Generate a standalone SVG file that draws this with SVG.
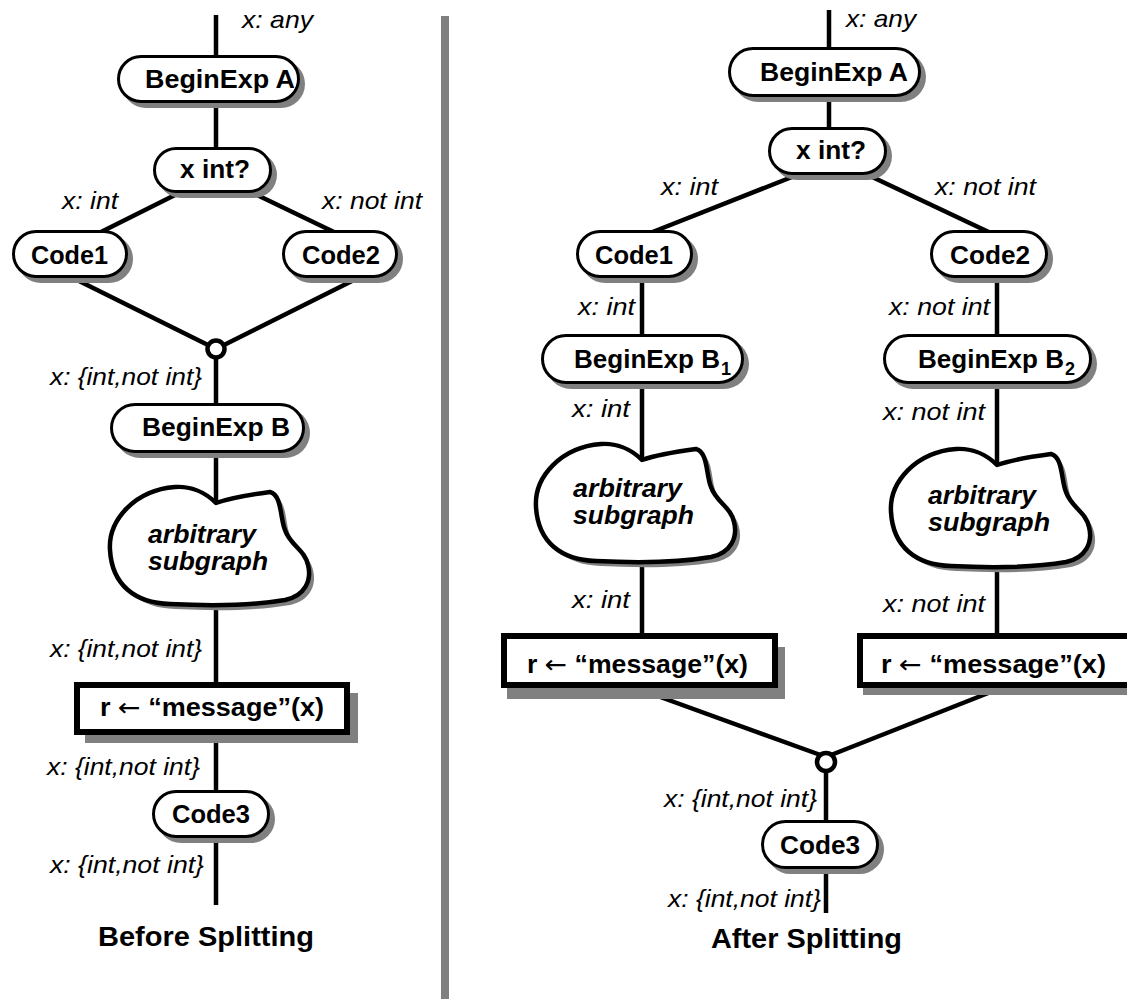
<svg xmlns="http://www.w3.org/2000/svg" xmlns:xlink="http://www.w3.org/1999/xlink" width="1127" height="999" viewBox="0 0 1127 999">
<style>
.bg{fill:#ffffff}
.edge{stroke:#000;stroke-width:4.5;fill:none}
.pill{fill:#fff;stroke:#000;stroke-width:3}
.shadow{fill:#808080;stroke:none}
.box{fill:#fff;stroke:#000;stroke-width:6}
.cloud{fill:#fff;stroke:#000;stroke-width:4.5;stroke-linejoin:round}
.join{fill:#fff;stroke:#000;stroke-width:4.5}
.lbl{font-family:"Liberation Sans",Arial,Helvetica,sans-serif;font-weight:bold;font-size:25px;fill:#000}
.arr{font-family:"DejaVu Sans",sans-serif;font-weight:normal}
.sub{font-family:"Liberation Sans",Arial,Helvetica,sans-serif;font-weight:bold;font-size:18px;fill:#000}
.cl{font-family:"Liberation Sans",Arial,Helvetica,sans-serif;font-weight:bold;font-style:italic;font-size:25px;fill:#000}
.ann{font-family:"Liberation Sans",Arial,Helvetica,sans-serif;font-style:italic;font-size:24px;fill:#000}
.title{font-family:"Liberation Sans",Arial,Helvetica,sans-serif;font-weight:bold;font-size:27px;fill:#000}
</style>
<defs>
<path id="cloudShape" d="M 0,0 C -11,-11 -26,-17 -41,-16 C -81,-13 -108,17 -106,47 C -104,82 -81,100 -46,101 C -6,103 34,103 69,97 C 89,93 96,77 92,62 C 89,47 74,42 69,27 C 64,15 66,-8 54,-11 C 39,-9 14,-5 0,0 Z"/>
</defs>
<rect class="bg" x="0" y="0" width="1127" height="999"/>
<rect id="divider" x="441" y="16" width="8" height="983" fill="#808080"/>

<g id="connectors">
  <line class="edge" x1="216" y1="15" x2="216" y2="57"/>
  <line class="edge" x1="216" y1="101" x2="216" y2="149"/>
  <line class="edge" x1="177" y1="194" x2="99" y2="233"/>
  <line class="edge" x1="255" y1="194" x2="336" y2="233"/>
  <line class="edge" x1="71" y1="277" x2="216" y2="349"/>
  <line class="edge" x1="360" y1="277" x2="216" y2="349"/>
  <line class="edge" x1="216" y1="349" x2="216" y2="405"/>
  <line class="edge" x1="216" y1="451" x2="216" y2="503"/>
  <line class="edge" x1="216" y1="600" x2="216" y2="684"/>
  <line class="edge" x1="216" y1="733" x2="216" y2="792"/>
  <line class="edge" x1="216" y1="836" x2="216" y2="905"/>
  <line class="edge" x1="829" y1="10" x2="829" y2="49"/>
  <line class="edge" x1="829" y1="95" x2="829" y2="129"/>
  <line class="edge" x1="797" y1="175" x2="645" y2="235"/>
  <line class="edge" x1="868" y1="175" x2="995" y2="235"/>
  <line class="edge" x1="642" y1="276" x2="642" y2="336"/>
  <line class="edge" x1="642" y1="382" x2="642" y2="460"/>
  <line class="edge" x1="642" y1="555" x2="642" y2="636"/>
  <line class="edge" x1="997" y1="276" x2="997" y2="336"/>
  <line class="edge" x1="997" y1="382" x2="997" y2="465"/>
  <line class="edge" x1="997" y1="560" x2="997" y2="636"/>
  <line class="edge" x1="630" y1="686" x2="826" y2="757"/>
  <line class="edge" x1="1006" y1="686" x2="826" y2="757"/>
  <line class="edge" x1="826" y1="762" x2="826" y2="822"/>
  <line class="edge" x1="826" y1="867" x2="826" y2="913"/>
</g>

<g id="L_beginA">
  <rect class="shadow" x="122" y="60" width="183" height="48" rx="24"/>
  <rect class="pill" x="118.5" y="56.5" width="180" height="45" rx="22.5"/>
  <text class="lbl" x="145" y="88" textLength="150" lengthAdjust="spacingAndGlyphs">BeginExp A</text>
</g>
<g id="L_xint">
  <rect class="shadow" x="158" y="152" width="119" height="46" rx="23"/>
  <rect class="pill" x="154.5" y="148.5" width="116" height="43" rx="21.5"/>
  <text class="lbl" x="180" y="178" textLength="70" lengthAdjust="spacingAndGlyphs">x int?</text>
</g>
<g id="L_code1">
  <rect class="shadow" x="17" y="235" width="116" height="48" rx="24"/>
  <rect class="pill" x="13.5" y="231.5" width="113" height="45" rx="22.5"/>
  <text class="lbl" x="31" y="264" textLength="77" lengthAdjust="spacingAndGlyphs">Code1</text>
</g>
<g id="L_code2">
  <rect class="shadow" x="287" y="235" width="116" height="48" rx="24"/>
  <rect class="pill" x="283.5" y="231.5" width="113" height="45" rx="22.5"/>
  <text class="lbl" x="302" y="264" textLength="78" lengthAdjust="spacingAndGlyphs">Code2</text>
</g>
<g id="L_join">
  <circle class="join" cx="216" cy="349" r="8.5"/>
</g>
<g id="L_beginB">
  <rect class="shadow" x="115" y="408" width="195" height="50" rx="25"/>
  <rect class="pill" x="111.5" y="404.5" width="192" height="47" rx="23.5"/>
  <text class="lbl" x="142" y="436" textLength="148" lengthAdjust="spacingAndGlyphs">BeginExp B</text>
</g>
<g id="L_cloud">
  <use xlink:href="#cloudShape" class="shadow" transform="translate(221,508)"/>
  <use xlink:href="#cloudShape" class="cloud" transform="translate(216,503)"/>
  <text class="cl" x="148" y="543" textLength="108" lengthAdjust="spacingAndGlyphs">arbitrary</text>
  <text class="cl" x="148" y="570" textLength="120" lengthAdjust="spacingAndGlyphs">subgraph</text>
</g>
<g id="L_msg">
  <rect class="shadow" x="85" y="693" width="273" height="50"/>
  <rect class="box" x="77" y="685" width="270" height="47"/>
  <text class="lbl" x="100" y="716" textLength="224" lengthAdjust="spacingAndGlyphs">r <tspan class="arr">←</tspan> “message”(x)</text>
</g>
<g id="L_code3">
  <rect class="shadow" x="157" y="795" width="118" height="48" rx="24"/>
  <rect class="pill" x="153.5" y="791.5" width="115" height="45" rx="22.5"/>
  <text class="lbl" x="172" y="823" textLength="78" lengthAdjust="spacingAndGlyphs">Code3</text>
</g>

<g id="L_labels">
  <text class="ann" x="242" y="28" textLength="71" lengthAdjust="spacingAndGlyphs">x: any</text>
  <text class="ann" x="62" y="209" textLength="56" lengthAdjust="spacingAndGlyphs">x: int</text>
  <text class="ann" x="322" y="209" textLength="100" lengthAdjust="spacingAndGlyphs">x: not int</text>
  <text class="ann" x="50" y="385" textLength="152" lengthAdjust="spacingAndGlyphs">x: {int,not int}</text>
  <text class="ann" x="50" y="657" textLength="152" lengthAdjust="spacingAndGlyphs">x: {int,not int}</text>
  <text class="ann" x="47" y="775" textLength="153" lengthAdjust="spacingAndGlyphs">x: {int,not int}</text>
  <text class="ann" x="50" y="873" textLength="154" lengthAdjust="spacingAndGlyphs">x: {int,not int}</text>
  <text class="title" x="98" y="946" textLength="216" lengthAdjust="spacingAndGlyphs">Before Splitting</text>
</g>

<g id="R_beginA">
  <rect class="shadow" x="733" y="52" width="193" height="50" rx="25"/>
  <rect class="pill" x="729.5" y="48.5" width="190" height="47" rx="23.5"/>
  <text class="lbl" x="760" y="81" textLength="148" lengthAdjust="spacingAndGlyphs">BeginExp A</text>
</g>
<g id="R_xint">
  <rect class="shadow" x="773" y="132" width="119" height="48" rx="24"/>
  <rect class="pill" x="769.5" y="128.5" width="116" height="45" rx="22.5"/>
  <text class="lbl" x="796" y="159" textLength="70" lengthAdjust="spacingAndGlyphs">x int?</text>
</g>
<g id="R_code1">
  <rect class="shadow" x="581" y="235" width="117" height="48" rx="24"/>
  <rect class="pill" x="577.5" y="231.5" width="114" height="45" rx="22.5"/>
  <text class="lbl" x="595" y="264" textLength="78" lengthAdjust="spacingAndGlyphs">Code1</text>
</g>
<g id="R_code2">
  <rect class="shadow" x="935" y="235" width="118" height="48" rx="24"/>
  <rect class="pill" x="931.5" y="231.5" width="115" height="45" rx="22.5"/>
  <text class="lbl" x="950" y="264" textLength="80" lengthAdjust="spacingAndGlyphs">Code2</text>
</g>
<g id="R_beginB1">
  <rect class="shadow" x="546" y="339" width="203" height="50" rx="25"/>
  <rect class="pill" x="542.5" y="335.5" width="200" height="47" rx="23.5"/>
  <text class="lbl" x="574" y="368" textLength="146" lengthAdjust="spacingAndGlyphs">BeginExp B</text>
  <text class="sub" x="721" y="375">1</text>
</g>
<g id="R_beginB2">
  <rect class="shadow" x="888" y="339" width="209" height="50" rx="25"/>
  <rect class="pill" x="884.5" y="335.5" width="206" height="47" rx="23.5"/>
  <text class="lbl" x="918" y="368" textLength="146" lengthAdjust="spacingAndGlyphs">BeginExp B</text>
  <text class="sub" x="1065" y="375">2</text>
</g>
<g id="R_cloud1">
  <use xlink:href="#cloudShape" class="shadow" transform="translate(647,465)"/>
  <use xlink:href="#cloudShape" class="cloud" transform="translate(642,460)"/>
  <text class="cl" x="573" y="497" textLength="109" lengthAdjust="spacingAndGlyphs">arbitrary</text>
  <text class="cl" x="573" y="524" textLength="121" lengthAdjust="spacingAndGlyphs">subgraph</text>
</g>
<g id="R_cloud2">
  <use xlink:href="#cloudShape" class="shadow" transform="translate(1002,470)"/>
  <use xlink:href="#cloudShape" class="cloud" transform="translate(997,465)"/>
  <text class="cl" x="928" y="504" textLength="108" lengthAdjust="spacingAndGlyphs">arbitrary</text>
  <text class="cl" x="928" y="531" textLength="122" lengthAdjust="spacingAndGlyphs">subgraph</text>
</g>
<g id="R_msg1">
  <rect class="shadow" x="507" y="647" width="278" height="52"/>
  <rect class="box" x="504" y="636" width="271" height="49"/>
  <text class="lbl" x="527" y="673" textLength="221" lengthAdjust="spacingAndGlyphs">r <tspan class="arr">←</tspan> “message”(x)</text>
</g>
<g id="R_msg2">
  <rect class="shadow" x="863" y="647" width="278" height="48"/>
  <rect class="box" x="860" y="636" width="275" height="49"/>
  <text class="lbl" x="881" y="673" textLength="225" lengthAdjust="spacingAndGlyphs">r <tspan class="arr">←</tspan> “message”(x)</text>
</g>
<g id="R_join">
  <circle class="join" cx="826" cy="762" r="9"/>
</g>
<g id="R_code3">
  <rect class="shadow" x="766" y="825" width="118" height="49" rx="24.5"/>
  <rect class="pill" x="762.5" y="821.5" width="115" height="46" rx="23"/>
  <text class="lbl" x="780" y="854" textLength="80" lengthAdjust="spacingAndGlyphs">Code3</text>
</g>

<g id="R_labels">
  <text class="ann" x="846" y="27" textLength="70" lengthAdjust="spacingAndGlyphs">x: any</text>
  <text class="ann" x="661" y="195" textLength="57" lengthAdjust="spacingAndGlyphs">x: int</text>
  <text class="ann" x="935" y="195" textLength="101" lengthAdjust="spacingAndGlyphs">x: not int</text>
  <text class="ann" x="578" y="315" textLength="57" lengthAdjust="spacingAndGlyphs">x: int</text>
  <text class="ann" x="889" y="315" textLength="101" lengthAdjust="spacingAndGlyphs">x: not int</text>
  <text class="ann" x="572" y="417" textLength="58" lengthAdjust="spacingAndGlyphs">x: int</text>
  <text class="ann" x="883" y="420" textLength="102" lengthAdjust="spacingAndGlyphs">x: not int</text>
  <text class="ann" x="572" y="608" textLength="58" lengthAdjust="spacingAndGlyphs">x: int</text>
  <text class="ann" x="883" y="612" textLength="102" lengthAdjust="spacingAndGlyphs">x: not int</text>
  <text class="ann" x="664" y="807" textLength="153" lengthAdjust="spacingAndGlyphs">x: {int,not int}</text>
  <text class="ann" x="668" y="907" textLength="153" lengthAdjust="spacingAndGlyphs">x: {int,not int}</text>
  <text class="title" x="711" y="948" textLength="191" lengthAdjust="spacingAndGlyphs">After Splitting</text>
</g>
</svg>
